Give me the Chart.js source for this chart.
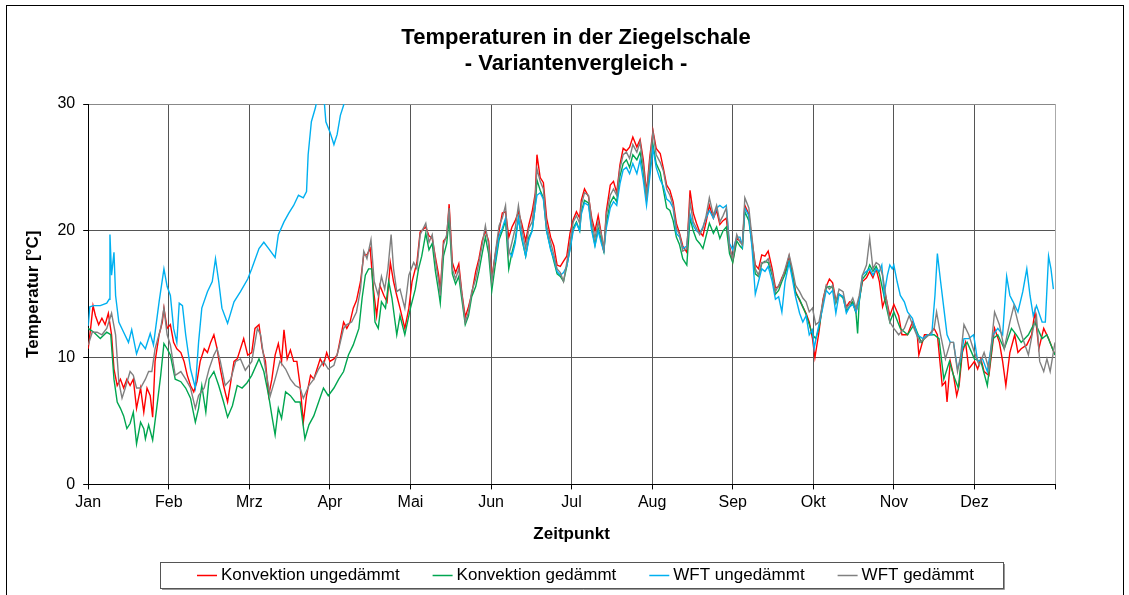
<!DOCTYPE html>
<html>
<head>
<meta charset="utf-8">
<script src="https://cdn.jsdelivr.net/npm/chart.js@4.4.1/dist/chart.umd.min.js"></script>
<style>
  html, body { margin: 0; padding: 0; background: #fff; }
</style>
</head>
<body>
<canvas id="myChart" width="1129" height="595"></canvas>
<script>
// x = position in months (0 = 1. Jan, 12 = end of Dez), y = temperature in °C
const monthNames = ['Jan','Feb','Mrz','Apr','Mai','Jun','Jul','Aug','Sep','Okt','Nov','Dez'];
const titleLines = ['Temperaturen in der Ziegelschale', '- Variantenvergleich -'];

const konvUngedaemmt = [
  [0.00,10.7],[0.03,12.3],[0.06,14.1],[0.09,13.3],[0.13,12.6],[0.17,13.1],[0.21,12.6],[0.25,13.5],[0.29,11.8],[0.32,9.1],
  [0.36,7.8],[0.40,8.3],[0.44,7.6],[0.48,8.3],[0.52,7.8],[0.56,8.3],[0.60,6.0],[0.65,7.6],[0.69,5.7],[0.73,7.6],
  [0.77,7.0],[0.80,5.3],[0.83,9.7],[0.88,11.8],[0.92,12.8],[0.94,13.9],[0.98,12.3],[1.02,12.6],[1.06,11.2],[1.10,10.7],
  [1.15,10.4],[1.19,9.7],[1.23,8.6],[1.27,7.8],[1.31,7.3],[1.35,8.1],[1.39,9.7],[1.44,10.7],[1.48,10.4],[1.52,11.2],
  [1.56,11.8],[1.60,10.7],[1.64,9.1],[1.68,7.8],[1.73,6.5],[1.77,8.1],[1.81,9.7],[1.85,9.9],[1.89,10.7],[1.93,11.5],
  [1.98,10.2],[2.03,10.4],[2.07,12.3],[2.12,12.6],[2.16,10.7],[2.20,9.7],[2.24,7.0],[2.28,8.3],[2.32,10.2],[2.36,11.1],
  [2.40,9.7],[2.43,12.2],[2.47,9.9],[2.51,10.6],[2.55,9.7],[2.59,9.7],[2.63,7.8],[2.67,4.9],[2.71,7.0],[2.76,8.6],
  [2.80,8.3],[2.84,9.1],[2.88,9.9],[2.92,9.4],[2.96,10.4],[3.00,9.7],[3.05,9.9],[3.09,10.2],[3.13,11.5],[3.17,12.8],
  [3.21,12.3],[3.25,12.8],[3.29,13.9],[3.33,14.5],[3.38,16.0],[3.42,18.1],[3.46,18.1],[3.50,18.6],[3.54,15.4],[3.58,13.3],
  [3.62,15.7],[3.67,14.9],[3.71,14.4],[3.75,17.5],[3.79,16.0],[3.83,14.9],[3.87,13.9],[3.93,12.3],[3.98,13.9],[4.02,16.0],
  [4.08,17.5],[4.12,19.9],[4.19,20.3],[4.23,19.6],[4.27,19.4],[4.31,17.9],[4.35,16.5],[4.37,15.2],[4.41,19.2],[4.45,19.5],
  [4.48,22.1],[4.52,17.5],[4.56,16.7],[4.60,17.4],[4.64,15.0],[4.68,13.2],[4.72,14.0],[4.76,15.0],[4.81,16.8],[4.85,17.8],
  [4.89,19.2],[4.93,20.0],[4.97,19.2],[5.01,16.3],[5.05,18.0],[5.10,20.0],[5.14,21.4],[5.18,21.5],[5.22,19.5],[5.26,20.3],
  [5.30,20.8],[5.34,21.5],[5.38,20.6],[5.43,19.2],[5.47,20.5],[5.51,21.5],[5.55,23.0],[5.57,26.0],[5.61,24.2],[5.65,23.8],
  [5.69,21.0],[5.74,19.5],[5.78,18.8],[5.82,17.3],[5.86,17.2],[5.90,17.6],[5.94,18.0],[5.98,19.8],[6.02,20.9],[6.06,21.5],
  [6.10,21.0],[6.12,22.4],[6.16,23.3],[6.21,22.7],[6.25,21.0],[6.29,20.0],[6.33,21.2],[6.37,19.7],[6.40,18.3],[6.43,21.5],
  [6.48,23.6],[6.52,23.9],[6.56,23.0],[6.60,25.2],[6.64,26.5],[6.68,26.3],[6.72,26.6],[6.76,27.4],[6.81,26.6],[6.85,27.2],
  [6.89,25.6],[6.93,23.0],[6.97,25.8],[7.01,27.9],[7.05,26.5],[7.10,26.1],[7.14,24.9],[7.18,23.6],[7.22,23.2],[7.26,22.3],
  [7.30,20.6],[7.34,19.8],[7.38,18.8],[7.43,18.3],[7.47,23.2],[7.51,21.4],[7.55,20.6],[7.59,19.9],[7.63,19.6],[7.67,20.7],
  [7.71,22.0],[7.76,21.0],[7.80,21.6],[7.84,20.5],[7.88,20.8],[7.92,21.0],[7.96,18.8],[8.00,17.6],[8.05,19.4],[8.09,19.2],
  [8.12,19.0],[8.15,22.0],[8.20,21.3],[8.24,19.2],[8.28,17.3],[8.32,17.0],[8.36,18.1],[8.40,18.0],[8.44,18.4],[8.49,17.0],
  [8.53,15.5],[8.57,15.6],[8.61,16.3],[8.65,16.8],[8.70,18.0],[8.74,16.6],[8.78,15.2],[8.83,14.5],[8.87,14.0],[8.91,13.5],
  [8.95,12.8],[8.99,11.5],[9.02,10.0],[9.07,12.0],[9.12,14.6],[9.16,15.6],[9.20,16.2],[9.24,15.9],[9.28,14.5],[9.32,15.0],
  [9.37,14.8],[9.41,14.0],[9.45,14.4],[9.49,14.3],[9.53,13.6],[9.57,14.6],[9.61,16.0],[9.66,16.3],[9.70,16.8],[9.74,16.3],
  [9.78,17.0],[9.82,16.0],[9.86,14.0],[9.90,14.8],[9.95,13.3],[10.00,14.2],[10.06,13.3],[10.10,11.8],[10.17,11.8],[10.23,12.8],
  [10.29,11.8],[10.31,10.2],[10.38,11.8],[10.44,11.8],[10.50,12.3],[10.54,11.8],[10.60,7.8],[10.64,8.1],[10.66,6.5],[10.70,9.7],
  [10.74,8.6],[10.78,7.0],[10.81,7.8],[10.85,10.4],[10.89,11.2],[10.93,9.1],[11.00,9.7],[11.04,9.1],[11.08,9.9],[11.12,8.9],
  [11.18,8.6],[11.25,12.3],[11.31,11.2],[11.35,9.7],[11.39,7.8],[11.44,10.4],[11.50,11.8],[11.54,10.4],[11.58,10.7],[11.65,11.0],
  [11.71,11.8],[11.75,13.6],[11.80,10.7],[11.86,12.3],[11.92,11.5],[12.00,10.2]
];

const konvGedaemmt = [
  [0.00,12.3],[0.07,12.0],[0.15,11.5],[0.23,12.0],[0.28,11.8],[0.32,8.3],[0.36,6.5],[0.40,6.0],[0.44,5.4],[0.48,4.4],
  [0.52,4.8],[0.56,5.7],[0.60,3.2],[0.65,4.9],[0.69,4.4],[0.71,3.6],[0.75,4.7],[0.80,3.5],[0.85,6.0],[0.90,8.6],
  [0.94,11.1],[0.98,10.7],[1.02,10.2],[1.08,8.3],[1.15,8.1],[1.21,7.6],[1.27,6.8],[1.33,4.9],[1.37,6.0],[1.41,7.8],
  [1.46,5.7],[1.50,8.3],[1.56,8.9],[1.62,7.8],[1.68,6.5],[1.73,5.3],[1.79,6.2],[1.85,7.8],[1.91,7.6],[1.97,8.0],
  [2.03,8.6],[2.12,9.9],[2.18,8.9],[2.24,7.0],[2.28,5.4],[2.32,3.9],[2.36,6.0],[2.40,5.2],[2.45,7.3],[2.51,7.0],
  [2.57,6.5],[2.63,6.5],[2.69,3.6],[2.74,4.7],[2.80,5.4],[2.86,6.5],[2.92,7.6],[2.98,7.0],[3.05,7.6],[3.11,8.3],
  [3.17,8.9],[3.23,10.2],[3.29,11.0],[3.36,12.3],[3.40,14.7],[3.44,16.5],[3.48,17.0],[3.52,17.0],[3.56,12.8],[3.60,12.3],
  [3.64,14.4],[3.69,13.9],[3.73,16.0],[3.77,14.7],[3.83,11.8],[3.87,13.3],[3.93,11.8],[4.00,13.9],[4.06,15.4],[4.10,17.0],
  [4.14,18.0],[4.19,19.8],[4.23,18.5],[4.27,19.0],[4.31,16.8],[4.35,15.2],[4.37,14.3],[4.41,18.0],[4.45,19.0],[4.48,21.0],
  [4.52,16.6],[4.56,15.8],[4.60,16.4],[4.64,14.5],[4.68,12.6],[4.72,13.3],[4.76,14.8],[4.81,15.6],[4.85,16.8],[4.89,18.2],
  [4.93,19.5],[4.97,18.2],[5.01,15.3],[5.05,17.2],[5.10,19.3],[5.14,20.0],[5.18,20.8],[5.22,17.0],[5.26,18.3],[5.30,19.3],
  [5.34,21.0],[5.38,19.4],[5.43,18.0],[5.47,19.5],[5.51,20.0],[5.55,22.0],[5.57,24.0],[5.61,23.2],[5.65,22.6],[5.69,20.0],
  [5.74,18.6],[5.78,17.6],[5.82,16.6],[5.86,16.4],[5.90,16.0],[5.94,17.2],[5.98,18.6],[6.02,20.2],[6.06,20.7],[6.10,20.0],
  [6.12,21.5],[6.16,22.4],[6.21,22.2],[6.25,20.2],[6.29,18.9],[6.33,20.2],[6.37,19.2],[6.40,18.4],[6.43,20.6],[6.48,22.2],
  [6.52,22.7],[6.56,22.3],[6.60,24.3],[6.64,25.3],[6.68,25.6],[6.72,25.0],[6.76,26.0],[6.81,25.6],[6.85,26.2],[6.89,24.6],
  [6.93,22.4],[6.97,24.7],[7.01,26.8],[7.05,25.3],[7.10,24.6],[7.14,23.2],[7.18,21.8],[7.22,21.6],[7.26,20.8],[7.30,19.5],
  [7.34,18.9],[7.38,17.8],[7.43,17.3],[7.47,21.0],[7.51,20.0],[7.55,19.3],[7.59,19.0],[7.63,18.6],[7.67,19.6],[7.71,20.6],
  [7.76,19.8],[7.80,20.3],[7.84,19.4],[7.88,20.0],[7.92,20.3],[7.96,18.2],[8.00,17.5],[8.05,19.2],[8.09,18.8],[8.12,18.6],
  [8.15,21.5],[8.20,20.8],[8.24,18.9],[8.28,16.6],[8.32,16.4],[8.36,17.4],[8.40,17.6],[8.44,17.5],[8.49,16.5],[8.53,15.0],
  [8.57,15.3],[8.61,16.0],[8.65,16.6],[8.70,17.6],[8.74,16.5],[8.78,15.1],[8.83,14.6],[8.87,14.0],[8.91,13.4],[8.95,12.6],
  [8.99,11.8],[9.03,11.5],[9.07,12.3],[9.12,14.3],[9.16,15.5],[9.20,15.6],[9.24,15.5],[9.28,14.3],[9.32,15.0],[9.37,14.7],
  [9.41,13.7],[9.45,14.0],[9.49,14.4],[9.53,13.5],[9.55,11.9],[9.57,14.4],[9.61,16.2],[9.66,16.6],[9.70,17.3],[9.74,16.8],
  [9.78,17.2],[9.82,16.6],[9.86,15.4],[9.90,14.2],[9.95,12.8],[10.00,13.6],[10.08,12.3],[10.17,11.8],[10.25,12.6],[10.34,11.2],
  [10.42,11.8],[10.50,11.8],[10.56,11.5],[10.62,8.3],[10.69,9.7],[10.74,8.6],[10.80,7.6],[10.85,10.7],[10.91,11.2],[11.00,9.9],
  [11.08,9.7],[11.16,7.8],[11.23,11.5],[11.29,11.8],[11.37,10.7],[11.46,12.3],[11.52,11.8],[11.58,11.2],[11.67,11.8],[11.75,12.8],
  [11.84,11.5],[11.90,11.8],[12.00,10.2]
];

const wftUngedaemmt = [
  [0.00,12.5],[0.02,14.0],[0.07,14.1],[0.15,14.1],[0.23,14.3],[0.26,14.6],[0.27,19.7],[0.29,16.5],[0.32,18.3],[0.34,14.9],
  [0.38,12.8],[0.44,12.0],[0.50,11.2],[0.54,12.2],[0.60,10.3],[0.65,11.2],[0.71,10.7],[0.77,11.9],[0.81,11.0],[0.88,14.4],
  [0.94,17.0],[0.98,15.6],[1.02,14.9],[1.06,12.3],[1.10,11.2],[1.13,14.3],[1.17,14.1],[1.21,11.8],[1.27,9.1],[1.33,7.6],
  [1.37,11.2],[1.41,13.9],[1.48,15.2],[1.54,16.0],[1.58,17.8],[1.62,16.0],[1.66,13.9],[1.73,12.7],[1.81,14.4],[1.89,15.2],
  [1.98,16.2],[2.03,17.0],[2.12,18.6],[2.18,19.1],[2.24,18.6],[2.32,17.9],[2.36,19.7],[2.43,20.7],[2.49,21.4],[2.55,22.0],
  [2.61,22.8],[2.67,22.6],[2.71,23.1],[2.73,26.0],[2.77,28.6],[2.82,29.7],[2.86,31.0],[2.92,31.0],[2.95,28.6],[3.00,27.8],
  [3.05,26.8],[3.09,27.6],[3.13,29.1],[3.17,29.9],[3.21,31.5],[3.25,null],
  [5.05,17.5],[5.10,19.6],[5.14,20.2],[5.18,21.0],[5.22,18.4],[5.26,18.0],[5.30,19.0],[5.34,21.0],[5.38,19.6],[5.43,18.0],
  [5.47,19.3],[5.51,20.0],[5.55,22.0],[5.57,22.8],[5.61,23.0],[5.65,22.5],[5.69,20.0],[5.74,18.5],[5.78,17.8],[5.82,16.8],
  [5.86,16.5],[5.90,16.7],[5.94,17.2],[5.98,18.5],[6.02,20.0],[6.06,20.6],[6.10,20.0],[6.12,21.3],[6.16,22.2],[6.21,22.0],
  [6.25,20.0],[6.29,18.8],[6.33,20.0],[6.37,19.0],[6.40,18.4],[6.43,20.2],[6.48,21.8],[6.52,22.3],[6.56,22.0],[6.60,23.7],
  [6.64,24.8],[6.68,25.0],[6.72,24.5],[6.76,25.3],[6.81,24.5],[6.85,25.6],[6.89,24.0],[6.93,22.0],[6.97,24.2],[7.01,26.5],
  [7.05,25.0],[7.10,24.0],[7.14,23.5],[7.18,22.5],[7.22,22.3],[7.26,21.8],[7.30,19.8],[7.34,19.5],[7.38,18.6],[7.43,18.8],
  [7.47,21.3],[7.51,20.4],[7.55,20.0],[7.59,19.8],[7.63,20.3],[7.67,21.0],[7.71,21.6],[7.76,21.0],[7.80,21.8],[7.84,22.0],
  [7.88,21.8],[7.92,22.0],[7.96,19.0],[8.00,18.5],[8.05,19.5],[8.09,19.5],[8.12,18.8],[8.15,21.8],[8.20,21.2],[8.24,18.6],
  [8.28,15.0],[8.32,16.0],[8.36,17.0],[8.40,16.8],[8.44,17.2],[8.49,16.0],[8.53,14.6],[8.57,14.8],[8.61,13.6],[8.65,16.0],
  [8.70,17.5],[8.74,16.2],[8.78,14.8],[8.83,13.5],[8.87,12.8],[8.91,13.3],[8.95,11.8],[8.99,12.2],[9.01,10.7],[9.05,12.0],
  [9.12,14.0],[9.16,15.3],[9.20,15.0],[9.24,15.3],[9.28,13.5],[9.32,15.0],[9.37,14.8],[9.41,13.5],[9.45,14.0],[9.49,14.2],
  [9.53,13.6],[9.57,14.5],[9.61,16.5],[9.66,16.8],[9.70,17.0],[9.74,16.5],[9.78,17.0],[9.82,16.8],[9.85,17.3],[9.88,15.0],
  [9.92,16.5],[9.95,17.3],[9.98,17.0],[10.00,17.3],[10.04,16.0],[10.08,14.9],[10.13,14.4],[10.17,13.6],[10.23,13.1],[10.29,11.8],
  [10.36,11.5],[10.42,11.8],[10.47,11.8],[10.51,14.9],[10.54,18.2],[10.58,16.0],[10.62,13.9],[10.66,11.8],[10.70,11.2],[10.74,11.2],
  [10.79,9.1],[10.83,9.9],[10.87,11.5],[10.93,11.5],[10.99,11.8],[11.04,9.7],[11.10,9.9],[11.16,8.9],[11.23,11.8],[11.29,12.3],
  [11.35,11.8],[11.40,16.4],[11.44,14.9],[11.48,14.4],[11.54,13.6],[11.60,15.2],[11.65,17.0],[11.69,14.9],[11.73,13.3],[11.77,14.1],
  [11.84,12.8],[11.88,12.8],[11.92,18.0],[11.95,17.0],[11.98,15.4]
];

const wftGedaemmt = [
  [0.00,11.0],[0.05,12.0],[0.11,12.0],[0.17,11.8],[0.23,12.3],[0.29,13.5],[0.34,11.8],[0.38,8.1],[0.42,6.8],[0.46,7.6],
  [0.52,8.9],[0.56,8.6],[0.60,7.6],[0.65,7.6],[0.71,8.3],[0.75,8.9],[0.79,8.9],[0.83,10.7],[0.90,12.3],[0.94,13.9],
  [0.98,11.8],[1.02,11.0],[1.08,8.6],[1.15,8.9],[1.21,8.3],[1.27,7.6],[1.33,6.0],[1.37,7.0],[1.44,7.6],[1.50,9.1],
  [1.56,10.2],[1.60,10.7],[1.64,9.7],[1.70,7.8],[1.77,8.3],[1.83,9.7],[1.89,9.9],[1.95,9.0],[2.03,9.7],[2.10,12.3],
  [2.14,11.8],[2.20,9.1],[2.26,7.0],[2.32,8.3],[2.38,9.7],[2.45,9.1],[2.51,8.3],[2.57,7.8],[2.63,7.6],[2.67,6.8],
  [2.74,7.8],[2.80,8.3],[2.86,9.1],[2.92,9.7],[2.98,9.1],[3.05,9.4],[3.11,10.7],[3.17,12.3],[3.21,12.6],[3.27,12.8],
  [3.33,13.6],[3.38,15.4],[3.42,18.4],[3.46,17.8],[3.51,19.3],[3.55,16.0],[3.60,14.9],[3.64,16.4],[3.68,15.4],[3.72,17.0],
  [3.76,19.7],[3.79,17.0],[3.83,15.2],[3.87,15.4],[3.93,13.9],[3.98,16.5],[4.04,17.5],[4.08,17.0],[4.12,19.7],[4.19,20.6],
  [4.23,19.1],[4.27,19.7],[4.31,17.6],[4.35,16.0],[4.37,14.9],[4.41,18.9],[4.45,19.7],[4.48,21.8],[4.52,17.0],[4.56,16.2],
  [4.60,17.0],[4.64,14.9],[4.68,12.8],[4.72,13.6],[4.76,15.2],[4.81,16.2],[4.85,17.5],[4.89,18.9],[4.93,20.4],[4.97,18.9],
  [5.01,16.0],[5.05,18.1],[5.10,20.4],[5.14,21.0],[5.18,22.0],[5.22,18.1],[5.26,19.1],[5.30,20.2],[5.34,22.0],[5.38,20.2],
  [5.43,18.6],[5.47,20.2],[5.51,20.7],[5.55,22.8],[5.57,24.9],[5.61,23.9],[5.65,23.3],[5.69,20.4],[5.74,19.1],[5.78,18.1],
  [5.82,17.0],[5.86,16.7],[5.90,16.0],[5.94,17.5],[5.98,19.1],[6.02,20.7],[6.06,21.2],[6.10,20.6],[6.12,22.0],[6.16,23.0],
  [6.21,22.8],[6.25,20.7],[6.29,19.4],[6.33,20.7],[6.37,19.7],[6.40,18.6],[6.43,21.2],[6.48,22.8],[6.52,23.3],[6.56,22.8],
  [6.60,24.9],[6.64,26.0],[6.68,26.2],[6.72,25.7],[6.76,26.8],[6.81,26.2],[6.85,27.0],[6.89,25.1],[6.93,22.8],[6.97,25.4],
  [7.01,27.8],[7.05,26.0],[7.10,25.4],[7.14,24.7],[7.18,23.3],[7.22,22.8],[7.26,22.0],[7.30,20.2],[7.34,19.7],[7.38,18.4],
  [7.43,18.6],[7.47,22.3],[7.51,20.7],[7.55,20.2],[7.59,19.7],[7.63,20.2],[7.67,21.2],[7.71,22.6],[7.76,21.2],[7.80,22.0],
  [7.84,20.7],[7.88,21.2],[7.92,21.8],[7.96,18.6],[8.00,17.8],[8.05,19.7],[8.09,19.1],[8.12,18.9],[8.15,22.6],[8.20,21.8],
  [8.24,19.4],[8.28,17.0],[8.32,16.5],[8.36,17.5],[8.40,17.5],[8.44,17.8],[8.49,16.7],[8.53,15.2],[8.57,15.7],[8.61,16.2],
  [8.65,17.0],[8.70,18.1],[8.74,17.0],[8.78,15.7],[8.83,15.2],[8.87,14.7],[8.91,14.4],[8.95,13.6],[8.99,13.9],[9.03,12.6],
  [9.07,12.8],[9.12,14.4],[9.16,15.7],[9.20,15.4],[9.24,15.7],[9.28,14.4],[9.32,15.4],[9.37,15.2],[9.41,13.9],[9.45,14.2],
  [9.49,14.7],[9.53,13.9],[9.57,14.9],[9.61,16.5],[9.66,17.3],[9.70,19.4],[9.74,17.0],[9.78,17.5],[9.82,17.3],[9.86,16.5],
  [9.90,14.9],[9.95,12.8],[10.00,12.3],[10.06,11.8],[10.13,12.3],[10.19,13.3],[10.25,12.3],[10.32,11.2],[10.38,11.5],[10.44,11.8],
  [10.50,12.3],[10.53,13.6],[10.58,11.8],[10.64,9.9],[10.70,11.2],[10.74,11.2],[10.79,8.9],[10.83,10.2],[10.87,12.6],[10.93,11.8],
  [11.00,10.4],[11.06,9.4],[11.12,10.4],[11.18,9.1],[11.25,13.6],[11.31,12.6],[11.37,10.7],[11.44,12.8],[11.49,14.1],[11.54,12.8],
  [11.60,11.5],[11.67,10.2],[11.73,12.3],[11.77,13.3],[11.81,9.7],[11.86,8.9],[11.90,9.9],[11.94,8.9],[12.00,11.2]
];

const FONT = '"Liberation Sans", Arial, Helvetica, sans-serif';

function toPoints(series) {
  return series.map(p => ({ x: p[0], y: p[1] }));
}

// outer frame, title and boxed legend like the Excel original
const excelDecor = {
  id: 'excelDecor',
  beforeDraw(chart) {
    const c = chart.ctx;
    c.save();
    c.fillStyle = '#fff';
    c.fillRect(0, 0, chart.width, chart.height);
    c.strokeStyle = '#000';
    c.lineWidth = 1;
    c.strokeRect(6.5, 5.5, 1117, 620);
    c.fillStyle = '#000';
    c.font = 'bold 22px ' + FONT;
    c.textAlign = 'center';
    c.textBaseline = 'middle';
    c.fillText(titleLines[0], 576, 38);
    c.fillText(titleLines[1], 576, 64);
    c.restore();
  },
  afterDraw(chart) {
    const c = chart.ctx;
    c.save();
    c.font = '17px ' + FONT;
    c.textBaseline = 'middle';
    c.textAlign = 'left';
    const items = chart.data.datasets.map(ds => ({
      text: ds.label, color: ds.borderColor, w: c.measureText(ds.label).width
    }));
    const gap = 33, lineLen = 20, textGap = 4;
    const total = items.reduce((s, it) => s + lineLen + textGap + it.w, 0) + gap * (items.length - 1);
    const boxL = 160, boxR = 1003, boxT = 562, boxB = 588;
    c.strokeStyle = '#555';
    c.lineWidth = 1;
    c.strokeRect(boxL + 0.5, boxT + 0.5, boxR - boxL, boxB - boxT);
    c.strokeStyle = '#999';
    c.beginPath();
    c.moveTo(boxL + 2, boxB + 1.5); c.lineTo(boxR + 1.5, boxB + 1.5); c.lineTo(boxR + 1.5, boxT + 2);
    c.stroke();
    let x = (boxL + boxR) / 2 - total / 2 + 4;
    const y = (boxT + boxB) / 2 + 0.5;
    items.forEach(it => {
      c.strokeStyle = it.color;
      c.lineWidth = 1.5;
      c.beginPath();
      c.moveTo(x, y); c.lineTo(x + lineLen, y);
      c.stroke();
      c.fillStyle = '#000';
      c.fillText(it.text, x + lineLen + textGap, y);
      x += lineLen + textGap + it.w + gap;
    });
    c.restore();
  }
};

const data = {
  datasets: [
    { label: 'Konvektion ungedämmt', data: toPoints(konvUngedaemmt), borderColor: '#ff0000', backgroundColor: '#ff0000', order: 3 },
    { label: 'Konvektion gedämmt', data: toPoints(konvGedaemmt), borderColor: '#00a650', backgroundColor: '#00a650', order: 2 },
    { label: 'WFT ungedämmt', data: toPoints(wftUngedaemmt), borderColor: '#00b0f0', backgroundColor: '#00b0f0', order: 1 },
    { label: 'WFT gedämmt', data: toPoints(wftGedaemmt), borderColor: '#808080', backgroundColor: '#808080', order: 0 }
  ]
};

const config = {
  type: 'line',
  data,
  options: {
    responsive: false,
    animation: false,
    devicePixelRatio: 1,
    layout: { padding: { top: 104, left: 8, right: 74, bottom: 50 } },
    elements: {
      line: { borderWidth: 1.4, tension: 0, fill: false },
      point: { radius: 0, hoverRadius: 0 }
    },
    plugins: {
      legend: { display: false },
      title: { display: false },
      tooltip: { enabled: false }
    },
    scales: {
      x: {
        type: 'linear',
        min: 0,
        max: 12,
        ticks: {
          stepSize: 1,
          autoSkip: false,
          maxRotation: 0,
          padding: 4,
          color: '#000',
          font: { family: FONT, size: 16 },
          callback: v => monthNames[v] || ''
        },
        grid: {
          color: ctx => (ctx.tick && ctx.tick.value === 12) ? '#aaa' : '#555',
          tickColor: '#000',
          tickLength: 5
        },
        border: { color: '#000', width: 1 },
        title: {
          display: true,
          text: 'Zeitpunkt',
          color: '#000',
          font: { family: FONT, size: 17, weight: 'bold' },
          padding: { top: 8, bottom: 0 }
        }
      },
      y: {
        min: 0,
        max: 30,
        ticks: {
          stepSize: 10,
          padding: 8,
          color: '#000',
          font: { family: FONT, size: 16 }
        },
        grid: {
          color: ctx => (ctx.tick && ctx.tick.value === 30) ? '#888' : '#555',
          tickColor: '#000',
          tickLength: 5
        },
        border: { color: '#000', width: 1 },
        title: {
          display: true,
          text: 'Temperatur [°C]',
          color: '#000',
          font: { family: FONT, size: 17, weight: 'bold' },
          padding: { top: 15, bottom: 6 }
        }
      }
    }
  },
  plugins: [excelDecor]
};

var myChart = new Chart(document.getElementById('myChart').getContext('2d'), config);
</script>
</body>
</html>
